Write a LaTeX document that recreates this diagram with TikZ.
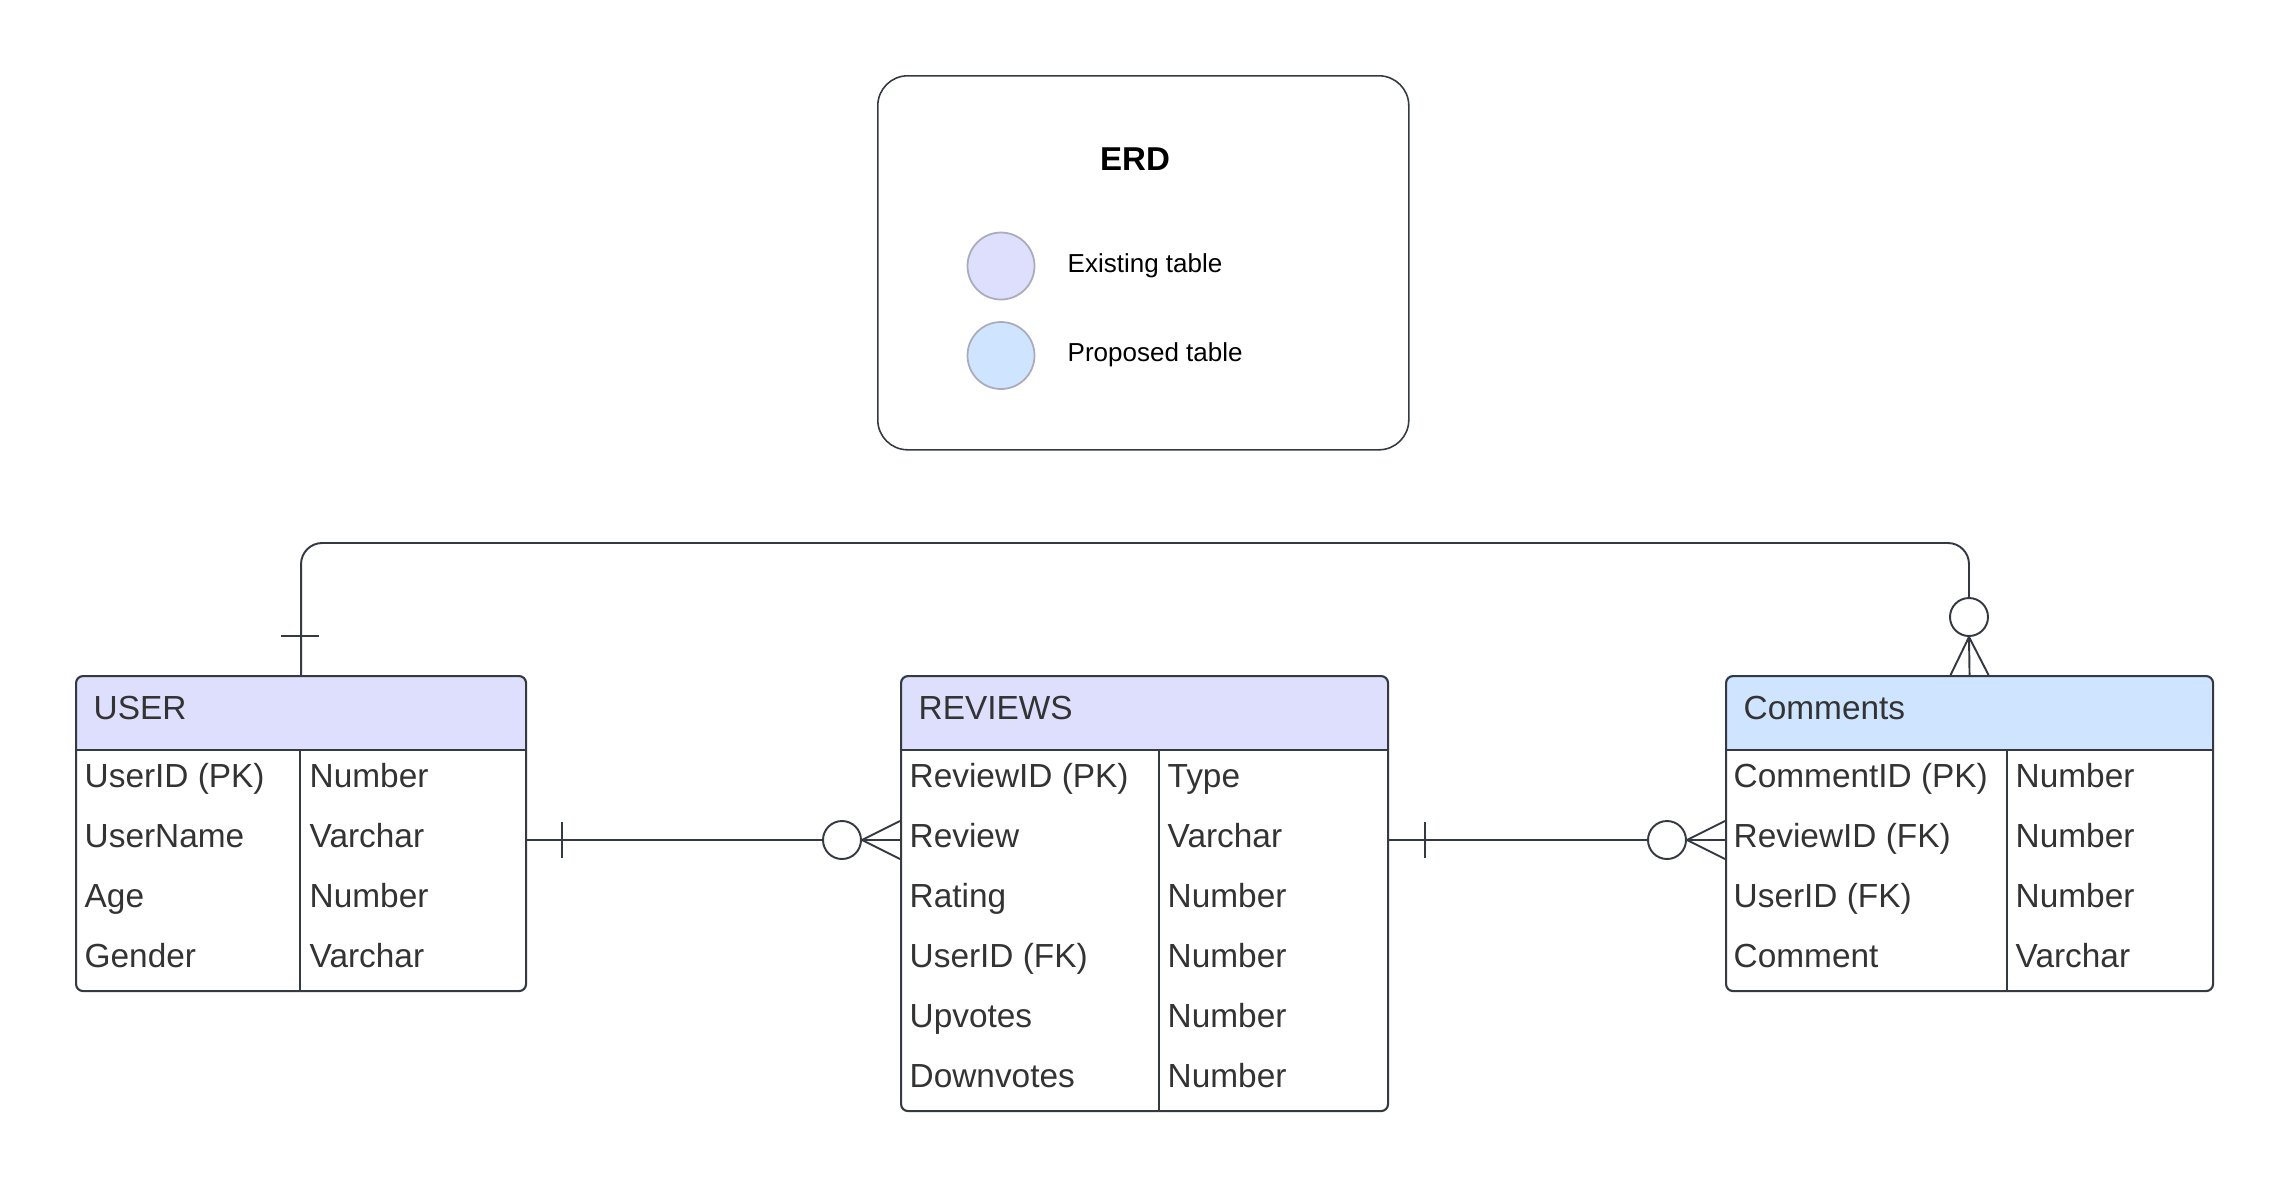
\documentclass[tikz,border=0pt]{standalone}
\usepackage{fontspec}
\setmainfont{Liberation Sans}
\usepackage{tikz}
\usetikzlibrary{calc}

\definecolor{linegray}{RGB}{52,57,66}
\definecolor{textgray}{RGB}{51,51,51}
\definecolor{existfill}{RGB}{222,223,252}
\definecolor{propfill}{RGB}{207,228,255}
\definecolor{dotedge}{RGB}{170,172,188}

\begin{document}
\begin{tikzpicture}[
  tbl/.style={draw=linegray, line width=0.6pt, rounded corners=2pt, inner sep=0pt, anchor=north west},
  fld/.style={anchor=west, inner sep=0pt, text=textgray, font=\fontsize{9.5}{11}\selectfont, text height=0.72em, text depth=0.22em},
  conn/.style={draw=linegray, line width=0.55pt},
  tick/.style={draw=linegray, line width=0.4pt},
  zero/.style={circle, draw=linegray, line width=0.55pt, fill=white, minimum size=0.38cm, inner sep=0pt},
  dot/.style={circle, draw=dotedge, line width=0.5pt, minimum size=0.67cm, inner sep=0pt},
  keytext/.style={anchor=west, inner sep=0pt, font=\fontsize{7.4}{9}\selectfont}
]
\useasboundingbox (0,0) rectangle (22.88,-11.85);

% legend
\node[draw=linegray, line width=0.45pt, rounded corners=8.5pt, minimum width=5.31cm, minimum height=3.74cm, anchor=north west] (legend) at (8.77,-0.75) {};
\node[font=\fontsize{9.4}{11}\selectfont\bfseries] (erd) at (11.35,-1.59) {ERD};
\node[dot, fill=existfill] (existdot) at (10.01,-2.66) {};
\node[dot, fill=propfill] (propdot) at (10.01,-3.555) {};
\node[keytext] (existtext) at (10.67,-2.66) {Existing table};
\node[keytext] (proptext) at (10.67,-3.55) {Proposed table};

% USER
\fill[existfill] (0.75,-7.50) [rounded corners=2pt] -- (0.75,-6.75) -- (5.25,-6.75) [sharp corners] -- (5.25,-7.50) -- cycle;
\node[tbl, minimum width=4.5cm, minimum height=3.15cm] (user) at (0.75,-6.75) {};
\draw[conn] (0.75,-7.50) -- (5.25,-7.50);
\draw[conn] (3.00,-7.50) -- (3.00,-9.90);
\node[fld] (usertitle) at (0.93,-7.11) {USER};
\foreach \f/\t [count=\i] in {UserID (PK)/Number, UserName/Varchar, Age/Number, Gender/Varchar}{
  \node[fld] (user-f\i) at (0.84,{-7.19-0.6*\i}) {\f};
  \node[fld] (user-t\i) at (3.09,{-7.19-0.6*\i}) {\t};
}

% REVIEWS
\fill[existfill] (9.00,-7.50) [rounded corners=2pt] -- (9.00,-6.75) -- (13.87,-6.75) [sharp corners] -- (13.87,-7.50) -- cycle;
\node[tbl, minimum width=4.87cm, minimum height=4.35cm] (reviews) at (9.00,-6.75) {};
\draw[conn] (9.00,-7.50) -- (13.87,-7.50);
\draw[conn] (11.59,-7.50) -- (11.59,-11.10);
\node[fld] (reviewstitle) at (9.18,-7.11) {REVIEWS};
\foreach \f/\t [count=\i] in {ReviewID (PK)/Type, Review/Varchar, Rating/Number, UserID (FK)/Number, Upvotes/Number, Downvotes/Number}{
  \node[fld] (reviews-f\i) at (9.09,{-7.19-0.6*\i}) {\f};
  \node[fld] (reviews-t\i) at (11.67,{-7.19-0.6*\i}) {\t};
}

% Comments
\fill[propfill] (17.25,-7.50) [rounded corners=2pt] -- (17.25,-6.75) -- (22.12,-6.75) [sharp corners] -- (22.12,-7.50) -- cycle;
\node[tbl, minimum width=4.87cm, minimum height=3.15cm] (comments) at (17.25,-6.75) {};
\draw[conn] (17.25,-7.50) -- (22.12,-7.50);
\draw[conn] (20.07,-7.50) -- (20.07,-9.90);
\node[fld] (commentstitle) at (17.43,-7.11) {Comments};
\foreach \f/\t [count=\i] in {CommentID (PK)/Number, ReviewID (FK)/Number, UserID (FK)/Number, Comment/Varchar}{
  \node[fld] (comments-f\i) at (17.33,{-7.19-0.6*\i}) {\f};
  \node[fld] (comments-t\i) at (20.15,{-7.19-0.6*\i}) {\t};
}

% USER -> REVIEWS
\node[zero] (c1) at (8.42,-8.40) {};
\coordinate (t1) at (5.62,-8.40);
\draw[conn] (user.east |- c1) -- (c1);
\draw[tick] ($(t1)+(0,0.18)$) -- ($(t1)-(0,0.18)$);
\draw[conn] (c1.east) -- (reviews.west |- c1);
\draw[conn] ($(reviews.west |- c1)+(0,0.19)$) -- (c1.east) -- ($(reviews.west |- c1)-(0,0.19)$);

% REVIEWS -> Comments
\node[zero] (c2) at (16.67,-8.40) {};
\coordinate (t2) at (14.25,-8.40);
\draw[conn] (reviews.east |- c2) -- (c2);
\draw[tick] ($(t2)+(0,0.18)$) -- ($(t2)-(0,0.18)$);
\draw[conn] (c2.east) -- (comments.west |- c2);
\draw[conn] ($(comments.west |- c2)+(0,0.19)$) -- (c2.east) -- ($(comments.west |- c2)-(0,0.19)$);

% USER -> Comments
\node[zero] (c3) at (19.69,-6.17) {};
\coordinate (bend) at (11,-5.43);
\coordinate (t3) at (3.00,-6.36);
\draw[conn, rounded corners=6pt] (user.north) |- (bend) -| (c3.north);
\draw[tick] ($(t3)-(0.19,0)$) -- ($(t3)+(0.19,0)$);
\draw[conn] (c3.south) -- (comments.north);
\draw[conn] ($(comments.north)-(0.19,0)$) -- (c3.south) -- ($(comments.north)+(0.19,0)$);
\end{tikzpicture}
\end{document}
